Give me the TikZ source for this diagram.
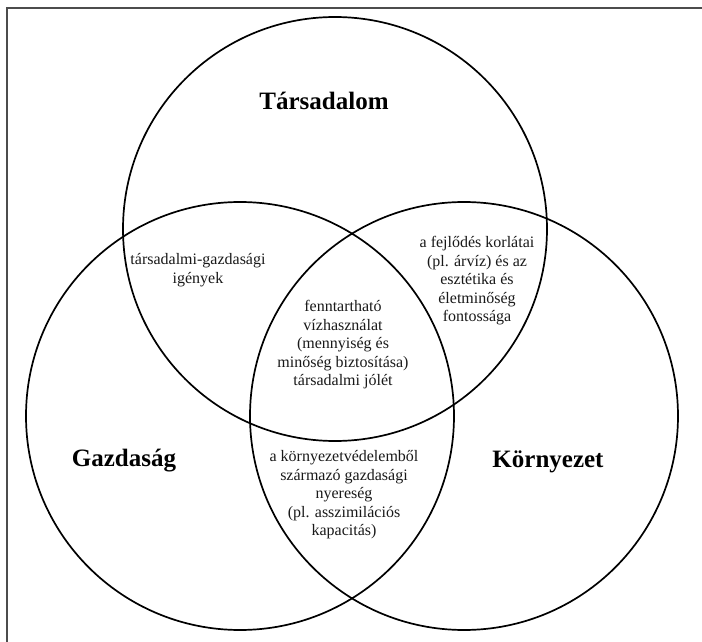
\documentclass[tikz,border=0pt]{standalone}
\usepackage{fontspec}
\setmainfont{Liberation Serif}
\begin{document}
\begin{tikzpicture}[x=1pt,y=-1pt,
  ring/.style={circle,draw=black,line width=1.7pt,minimum size=428pt,inner sep=0pt},
  title/.style={font=\fontsize{25}{28}\selectfont\bfseries,text=black,inner sep=0pt},
  note/.style={font=\fontsize{16}{18.5}\selectfont,text=black!90,align=center,inner sep=0pt}]
  \useasboundingbox (0,0) rectangle (702,642);
  % frame edges
  \coordinate (fbl) at (7,642);
  \coordinate (ftl) at (7,8);
  \coordinate (ftr) at (702,8);
  \draw[line width=1.3pt,black!70] (fbl) -- (ftl) -- (ftr);
  % the three sets
  \node[ring,minimum size=424pt] (tars) at (335,229) {};
  \node[ring] (gazd) at (240,416) {};
  \node[ring] (korny) at (464,416) {};
  % set names
  \node[title] (ltars) at (324,101) {Társadalom};
  \node[title] (lgazd) at (124,461) {Gazdaság};
  \node[title] (lkorny) at (548,462) {Környezet};
  % overlaps
  \node[note] (tg) at (198,270) {társadalmi-gazdasági\\igények};
  \node[note] (tk) at (477,281) {a fejlődés korlátai\\(pl. árvíz) és az\\esztétika és\\életminőség\\fontossága};
  \node[note] (mid) at (343,345) {fenntartható\\vízhasználat\\(mennyiség és\\minőség biztosítása)\\társadalmi jólét};
  \node[note] (gk) at (344,495) {a környezetvédelemből\\származó gazdasági\\nyereség\\(pl. asszimilációs\\kapacitás)};
\end{tikzpicture}
\end{document}
